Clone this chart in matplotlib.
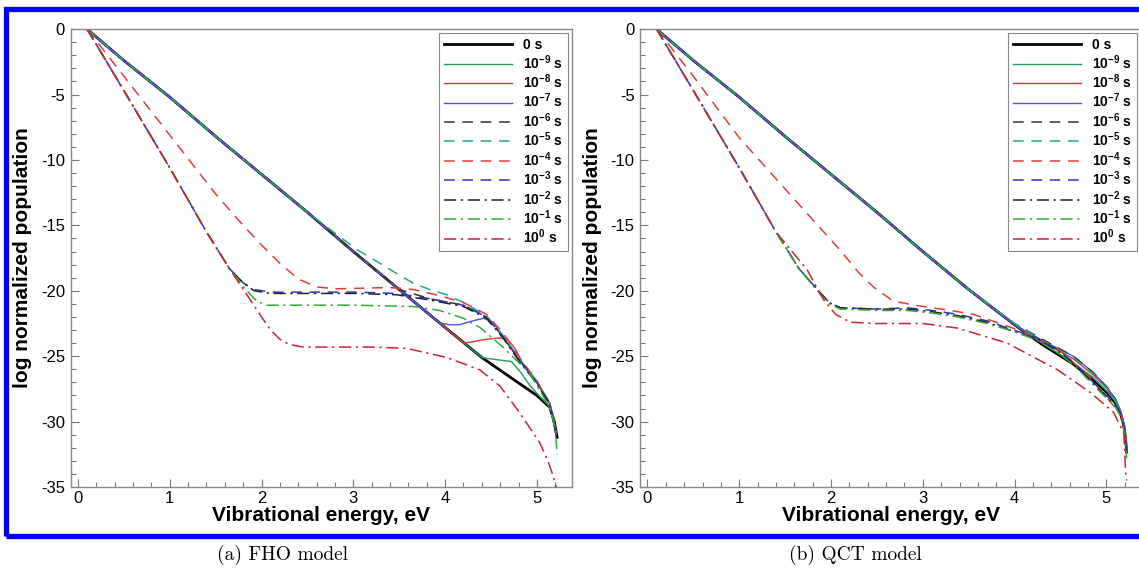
import matplotlib
matplotlib.use('Agg')
import matplotlib.pyplot as plt
from matplotlib.patches import Rectangle
from matplotlib.ticker import MultipleLocator

plt.rcParams['font.family'] = ['Liberation Sans', 'DejaVu Sans']
plt.rcParams['mathtext.fontset'] = 'custom'
plt.rcParams['mathtext.rm'] = 'Liberation Sans'
plt.rcParams['mathtext.bf'] = 'Liberation Sans:bold'
plt.rcParams['axes.unicode_minus'] = False

# legend labels (time after start)
labels = ['0 s', r'$\mathbf{10^{-9}}$ s', r'$\mathbf{10^{-8}}$ s', r'$\mathbf{10^{-7}}$ s',
          r'$\mathbf{10^{-6}}$ s', r'$\mathbf{10^{-5}}$ s', r'$\mathbf{10^{-4}}$ s',
          r'$\mathbf{10^{-3}}$ s', r'$\mathbf{10^{-2}}$ s', r'$\mathbf{10^{-1}}$ s',
          r'$\mathbf{10^{0}}$ s']

# ---- (a) FHO model ----
a_eq_x = [0.1, 0.5, 1.0, 1.5, 2.0, 2.5, 3.0, 3.5, 4.0, 4.4, 4.75, 5.0, 5.14, 5.19, 5.22]
a_eq_y = [0.0, -2.4, -5.2, -8.2, -11.1, -14.0, -17.0, -19.9, -22.8, -25.1, -26.8, -28.0, -28.9, -30.0, -31.2]

a_9_x = [0.1, 0.5, 1.0, 1.5, 2.0, 2.5, 3.0, 3.5, 4.0, 4.4, 4.5, 4.6, 4.72, 4.82, 4.92, 5.02, 5.12, 5.18, 5.21]
a_9_y = [0.0, -2.4, -5.2, -8.2, -11.1, -14.0, -17.0, -19.9, -22.8, -25.1, -25.2, -25.3, -25.4, -26.2, -27.2, -28.0, -28.7, -29.6, -31.0]

a_8_x = [0.1, 0.5, 1.0, 1.5, 2.0, 2.5, 3.0, 3.5, 4.0, 4.2, 4.3, 4.45, 4.6, 4.68, 4.76, 4.85, 4.92, 5.0, 5.14, 5.21]
a_8_y = [0.0, -2.4, -5.2, -8.2, -11.1, -14.0, -17.0, -19.9, -22.8, -24.0, -23.9, -23.7, -23.6, -23.7, -24.4, -25.6, -26.3, -27.0, -28.6, -31.0]

a_7_x = [0.1, 0.5, 1.0, 1.5, 2.0, 2.5, 3.0, 3.5, 3.94, 4.05, 4.15, 4.3, 4.42, 4.52, 4.63, 4.72, 4.81, 4.9, 5.0, 5.14, 5.21]
a_7_y = [0.0, -2.4, -5.2, -8.2, -11.1, -14.0, -17.0, -19.9, -22.45, -22.6, -22.6, -22.3, -22.1, -22.4, -23.5, -24.4, -25.3, -26.1, -27.0, -28.6, -30.8]

a_6_x = [0.1, 0.5, 1.0, 1.5, 2.0, 2.5, 3.0, 3.5, 3.83, 4.2, 4.45, 4.63, 4.81, 5.0, 5.14, 5.21]
a_6_y = [0.0, -2.4, -5.2, -8.2, -11.1, -14.0, -17.0, -19.9, -20.6, -21.1, -22.0, -23.5, -25.3, -27.0, -28.6, -31.0]

a_5_x = [0.1, 0.5, 1.0, 1.5, 2.0, 2.5, 2.82, 3.05, 3.29, 3.5, 3.65, 3.83, 4.02, 4.2, 4.45, 4.63, 4.81, 5.0, 5.14, 5.21]
a_5_y = [0.0, -2.4, -5.2, -8.2, -11.1, -14.0, -15.7, -16.9, -17.9, -18.8, -19.4, -19.9, -20.3, -20.9, -21.9, -23.4, -25.2, -26.9, -28.6, -31.0]

a_4_x = [0.1, 0.5, 1.0, 1.5, 1.8, 2.0, 2.2, 2.4, 2.6, 2.8, 3.1, 3.4, 3.65, 3.9, 4.2, 4.45, 4.63, 4.81, 5.0, 5.14, 5.21]
a_4_y = [0.0, -3.6, -8.1, -12.6, -15.0, -16.5, -17.9, -19.1, -19.7, -19.85, -19.8, -19.75, -19.9, -20.3, -20.9, -21.8, -23.2, -25.1, -26.9, -28.6, -31.0]

a_3_x = [0.1, 0.5, 1.0, 1.4, 1.65, 1.8, 1.92, 2.1, 2.5, 3.0, 3.47, 3.83, 4.2, 4.45, 4.63, 4.81, 5.0, 5.14, 5.21]
a_3_y = [0.0, -4.7, -10.6, -15.5, -18.3, -19.4, -19.9, -20.1, -20.1, -20.1, -20.2, -20.6, -21.1, -22.0, -23.5, -25.3, -27.0, -28.6, -31.0]

a_2_x = [0.1, 0.5, 1.0, 1.4, 1.65, 1.8, 1.92, 2.1, 2.5, 3.0, 3.47, 3.83, 4.2, 4.45, 4.63, 4.81, 5.0, 5.14, 5.21]
a_2_y = [0.0, -4.7, -10.6, -15.5, -18.3, -19.4, -20.0, -20.2, -20.2, -20.2, -20.3, -20.7, -21.2, -22.1, -23.6, -25.4, -27.1, -28.7, -31.0]

a_1_x = [0.1, 0.5, 1.0, 1.4, 1.65, 1.84, 1.95, 2.06, 2.5, 3.0, 3.65, 3.94, 4.2, 4.38, 4.63, 4.92, 5.14, 5.2, 5.22]
a_1_y = [0.0, -4.7, -10.6, -15.5, -18.3, -20.0, -20.8, -21.1, -21.1, -21.1, -21.2, -21.5, -22.1, -22.8, -24.3, -26.3, -28.9, -30.5, -32.5]

a_0_x = [0.1, 0.5, 1.0, 1.4, 1.65, 1.84, 2.0, 2.1, 2.2, 2.3, 2.45, 2.8, 3.2, 3.58, 4.02, 4.38, 4.6, 4.81, 5.03, 5.12, 5.18, 5.21]
a_0_y = [0.0, -4.7, -10.6, -15.5, -18.3, -20.3, -22.0, -23.0, -23.7, -24.1, -24.3, -24.3, -24.3, -24.4, -25.1, -26.05, -27.3, -29.3, -31.6, -33.0, -34.2, -35.0]

# ---- (b) QCT model ----
b_eq_x = [0.1, 0.5, 1.0, 1.5, 2.0, 2.5, 3.0, 3.5, 4.0, 4.3, 4.64, 4.85, 5.01, 5.1, 5.15, 5.19, 5.21, 5.22]
b_eq_y = [0.0, -2.4, -5.2, -8.2, -11.1, -14.0, -17.0, -19.9, -22.6, -24.1, -25.6, -26.8, -27.8, -28.6, -29.3, -30.3, -31.4, -32.3]

b_9_x = [0.1, 0.5, 1.0, 1.5, 2.0, 2.5, 3.0, 3.5, 4.0, 4.3, 4.64, 4.85, 5.01, 5.1, 5.15, 5.19, 5.21, 5.22]
b_9_y = [0.0, -2.4, -5.2, -8.2, -11.1, -14.0, -17.0, -19.9, -22.6, -24.0, -25.5, -26.6, -27.7, -28.5, -29.2, -30.2, -31.4, -32.3]

b_8_x = [0.1, 0.5, 1.0, 1.5, 2.0, 2.5, 3.0, 3.5, 4.0, 4.3, 4.64, 4.85, 5.01, 5.1, 5.15, 5.19, 5.21, 5.22]
b_8_y = [0.0, -2.4, -5.2, -8.2, -11.1, -14.0, -17.0, -19.9, -22.6, -23.9, -25.2, -26.4, -27.5, -28.4, -29.1, -30.2, -31.4, -32.3]

b_7_x = [0.1, 0.5, 1.0, 1.5, 2.0, 2.5, 3.0, 3.5, 4.0, 4.3, 4.64, 4.85, 5.01, 5.1, 5.15, 5.19, 5.21, 5.22]
b_7_y = [0.0, -2.4, -5.2, -8.2, -11.1, -14.0, -17.0, -19.9, -22.6, -23.8, -25.0, -26.2, -27.4, -28.3, -29.1, -30.2, -31.4, -32.3]

b_6_x = [0.1, 0.5, 1.0, 1.5, 2.0, 2.5, 3.0, 3.5, 4.0, 4.3, 4.64, 4.85, 5.01, 5.1, 5.15, 5.19, 5.21, 5.22]
b_6_y = [0.0, -2.4, -5.2, -8.2, -11.1, -14.0, -17.0, -19.9, -22.5, -23.7, -25.0, -26.2, -27.4, -28.3, -29.1, -30.2, -31.4, -32.3]

b_5_x = [0.1, 0.5, 1.0, 1.5, 2.0, 2.5, 3.0, 3.5, 4.0, 4.3, 4.64, 4.85, 5.01, 5.1, 5.15, 5.19, 5.21, 5.22]
b_5_y = [0.0, -2.4, -5.2, -8.2, -11.1, -14.0, -17.0, -19.9, -22.5, -23.8, -25.1, -26.3, -27.5, -28.4, -29.1, -30.2, -31.4, -32.3]

b_4_x = [0.1, 0.5, 1.0, 1.6, 2.1, 2.3, 2.46, 2.68, 3.0, 3.3, 3.55, 4.0, 4.47, 4.83, 5.08, 5.17, 5.21, 5.22]
b_4_y = [0.0, -3.6, -8.3, -13.0, -16.9, -18.6, -19.7, -20.8, -21.2, -21.5, -21.8, -22.9, -24.4, -26.7, -28.8, -29.6, -31.2, -32.3]

b_3_x = [0.1, 0.5, 1.0, 1.4, 1.65, 1.85, 1.98, 2.1, 2.5, 2.83, 3.1, 3.38, 3.7, 3.99, 4.25, 4.47, 4.65, 4.83, 5.0, 5.1, 5.17, 5.21, 5.22]
b_3_y = [0.0, -4.7, -10.6, -15.5, -18.3, -19.9, -20.9, -21.3, -21.4, -21.3, -21.5, -21.8, -22.3, -23.0, -23.6, -24.5, -25.5, -26.8, -28.0, -28.7, -29.6, -31.4, -32.5]

b_2_x = [0.1, 0.5, 1.0, 1.4, 1.65, 1.85, 1.98, 2.1, 2.5, 2.83, 3.1, 3.38, 3.7, 3.99, 4.25, 4.47, 4.65, 4.83, 5.0, 5.1, 5.17, 5.21, 5.22]
b_2_y = [0.0, -4.7, -10.6, -15.5, -18.3, -19.9, -20.9, -21.3, -21.4, -21.4, -21.6, -21.9, -22.4, -23.1, -23.7, -24.6, -25.6, -26.9, -28.1, -28.8, -29.7, -31.4, -32.5]

b_1_x = [0.1, 0.5, 1.0, 1.4, 1.65, 1.85, 1.98, 2.1, 2.5, 2.83, 3.1, 3.38, 3.7, 3.99, 4.25, 4.47, 4.65, 4.83, 5.0, 5.1, 5.17, 5.21, 5.22]
b_1_y = [0.0, -4.7, -10.6, -15.5, -18.3, -20.0, -21.0, -21.4, -21.5, -21.5, -21.7, -22.0, -22.5, -23.1, -23.8, -24.7, -25.7, -27.0, -28.2, -28.9, -29.8, -31.6, -32.8]

b_0_x = [0.1, 0.5, 1.0, 1.4, 1.74, 1.92, 2.05, 2.21, 2.46, 3.0, 3.38, 3.92, 4.47, 4.83, 5.08, 5.19, 5.21, 5.22]
b_0_y = [0.0, -4.7, -10.6, -15.5, -18.4, -20.7, -21.8, -22.4, -22.5, -22.5, -22.85, -24.0, -26.05, -27.8, -29.3, -30.9, -33.9, -34.5]

panel_a = [(a_eq_x, a_eq_y), (a_9_x, a_9_y), (a_8_x, a_8_y), (a_7_x, a_7_y), (a_6_x, a_6_y),
           (a_5_x, a_5_y), (a_4_x, a_4_y), (a_3_x, a_3_y), (a_2_x, a_2_y), (a_1_x, a_1_y), (a_0_x, a_0_y)]
panel_b = [(b_eq_x, b_eq_y), (b_9_x, b_9_y), (b_8_x, b_8_y), (b_7_x, b_7_y), (b_6_x, b_6_y),
           (b_5_x, b_5_y), (b_4_x, b_4_y), (b_3_x, b_3_y), (b_2_x, b_2_y), (b_1_x, b_1_y), (b_0_x, b_0_y)]

# line styles, same order as labels
dash = (0, (7, 5))
dashdot = (0, (8, 3, 1.5, 3))
colors = ['black', '#1f9e5a', '#dd3333', '#4d4dff',
          '#333333', '#22aa88', '#e03c3c', '#3333cc',
          '#222222', '#33aa33', '#cc2233']
styles = ['-', '-', '-', '-', dash, dash, dash, dash, dashdot, dashdot, dashdot]
widths = [2.0, 1.0, 1.0, 1.0, 1.1, 1.1, 1.1, 1.1, 1.1, 1.1, 1.1]

fig = plt.figure(figsize=(11.39, 5.71), dpi=100)
ax_a = fig.add_axes([0.062, 0.147, 0.440, 0.802])
ax_b = fig.add_axes([0.562, 0.147, 0.440, 0.802])

for ax, series in [(ax_a, panel_a), (ax_b, panel_b)]:
    for (x, y), c, ls, lw, lab in zip(series, colors, styles, widths, labels):
        ax.plot(x, y, color=c, linestyle=ls, linewidth=lw, label=lab)
    ax.set_xlim(-0.08, 5.38)
    ax.set_ylim(-35, 0)
    ax.xaxis.set_major_locator(MultipleLocator(1))
    ax.xaxis.set_minor_locator(MultipleLocator(0.2))
    ax.yaxis.set_major_locator(MultipleLocator(5))
    ax.yaxis.set_minor_locator(MultipleLocator(1))
    ax.tick_params(which='both', direction='in', color='#777777', labelsize=12)
    ax.tick_params(which='major', length=6, width=0.8)
    ax.tick_params(which='minor', length=3.5, width=0.8)
    ax.tick_params(axis='x', pad=3)
    ax.tick_params(axis='y', pad=4)
    for s in ax.spines.values():
        s.set_color('#888888')
        s.set_linewidth(1.0)
    ax.set_xlabel('Vibrational energy, eV', fontsize=15, fontweight='bold')
    ax.set_ylabel('log normalized population', fontsize=15, fontweight='bold')
    ax.xaxis.set_label_coords(0.5, -0.042)
    ax.yaxis.set_label_coords(-0.077, 0.5)
    leg = ax.legend(loc='upper right', prop={'weight': 'bold', 'size': 10},
                    handlelength=4.9, labelspacing=0.06, borderaxespad=0.3,
                    borderpad=0.35, fancybox=False, framealpha=1,
                    edgecolor='#888888', handletextpad=0.8)
    leg.get_frame().set_linewidth(0.8)

# blue frame around both panels
fig.add_artist(Rectangle((0.0057, 0.062), 1.1, 0.923, transform=fig.transFigure,
                         fill=False, edgecolor='#0000ff', linewidth=3.8))

fig.text(0.248, 0.028, '(a) FHO model', fontsize=14, family='cmr10', ha='center', va='center')
fig.text(0.751, 0.028, '(b) QCT model', fontsize=14, family='cmr10', ha='center', va='center')

fig.savefig('out.png', dpi=100, facecolor='white')
